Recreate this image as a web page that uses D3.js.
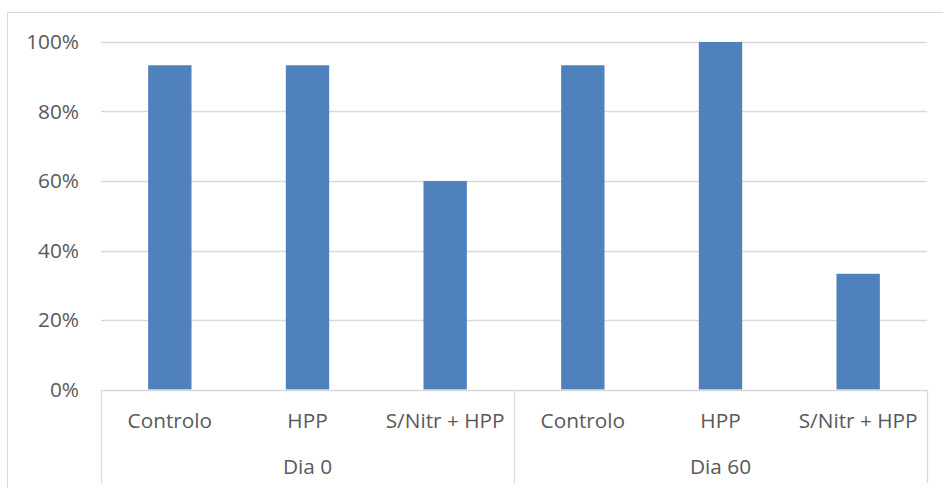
<!DOCTYPE html>
<meta charset="utf-8">
<style>
  body { margin: 0; background: #fff; }
  text { font-family: "Open Sans", "Liberation Sans", sans-serif; fill: #595959; }
</style>
<script src="https://cdn.jsdelivr.net/npm/d3@7"></script>
<body>
<script>

var groups = ["Dia 0", "Dia 60"];
var categories = ["Controlo", "HPP", "S/Nitr + HPP"];
var values = [0.933, 0.933, 0.60, 0.933, 1.0, 0.333];
var yTicks = [0, 0.2, 0.4, 0.6, 0.8, 1.0];

var width = 943,
    height = 488,
    plotLeft = 101,
    plotRight = 927,
    plotTop = 42,
    plotBottom = 389.5,
    fontSize = "20.8px";

var svg = d3.select("body").append("svg")
  .attr("width", width)
  .attr("height", height);

// chart frame
svg.append("rect")
  .attr("x", 7.5).attr("y", 12.5)
  .attr("width", 940).attr("height", 480)
  .attr("fill", "none")
  .attr("stroke", "#d9d9d9");

// one slot per bar
var slots = [];
groups.forEach(function(g) {
  categories.forEach(function(c) { slots.push(g + "|" + c); });
});

var x = d3.scaleBand()
  .domain(slots)
  .range([plotLeft, plotRight])
  .paddingInner(0.685)
  .paddingOuter(0.3425);

var xg = d3.scaleBand()
  .domain(groups)
  .range([plotLeft, plotRight]);

var y = d3.scaleLinear()
  .domain([0, 1])
  .range([plotBottom, plotTop]);

// gridlines
svg.append("g")
  .selectAll("line")
  .data(yTicks.slice(1))
  .join("line")
  .attr("x1", plotLeft).attr("x2", plotRight)
  .attr("y1", function(d) { return Math.round(y(d)) + 0.5; })
  .attr("y2", function(d) { return Math.round(y(d)) + 0.5; })
  .attr("stroke", "#d9d9d9")
  .attr("stroke-width", 1.3);

// y labels
svg.append("g")
  .selectAll("text")
  .data(yTicks)
  .join("text")
  .attr("x", 79)
  .attr("y", function(d) { return y(d); })
  .attr("dy", "0.35em")
  .attr("text-anchor", "end")
  .style("font-size", fontSize)
  .text(d3.format(".0%"));

// bars
svg.append("g")
  .selectAll("rect")
  .data(values)
  .join("rect")
  .attr("x", function(d, i) { return x(slots[i]); })
  .attr("y", function(d) { return y(d); })
  .attr("width", x.bandwidth())
  .attr("height", function(d) { return y(0) - y(d); })
  .attr("fill", "#4f81bd");

// axis line
svg.append("line")
  .attr("x1", plotLeft).attr("x2", plotRight)
  .attr("y1", 390.5).attr("y2", 390.5)
  .attr("stroke", "#d9d9d9")
  .attr("stroke-width", 1.3);

// group separators
var seps = groups.map(function(g) { return xg(g); }).concat([plotRight]);
svg.append("g")
  .selectAll("line")
  .data(seps)
  .join("line")
  .attr("x1", function(d) { return Math.round(d) + 0.5; })
  .attr("x2", function(d) { return Math.round(d) + 0.5; })
  .attr("y1", 390).attr("y2", 483)
  .attr("stroke", "#d9d9d9")
  .attr("stroke-width", 1.3);

// category labels
svg.append("g")
  .selectAll("text")
  .data(slots)
  .join("text")
  .attr("x", function(d) { return x(d) + x.bandwidth() / 2; })
  .attr("y", 428)
  .attr("text-anchor", "middle")
  .style("font-size", fontSize)
  .text(function(d) { return d.split("|")[1]; });

// group labels
svg.append("g")
  .selectAll("text")
  .data(groups)
  .join("text")
  .attr("x", function(d) { return xg(d) + xg.bandwidth() / 2; })
  .attr("y", 474)
  .attr("text-anchor", "middle")
  .style("font-size", fontSize)
  .text(function(d) { return d; });

</script>
</body>
